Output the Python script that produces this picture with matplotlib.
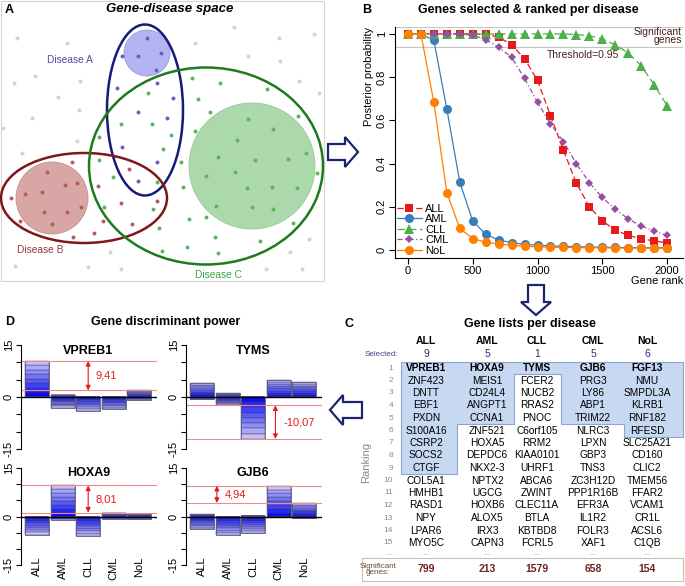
import matplotlib
matplotlib.use('Agg')
import matplotlib.pyplot as plt
import numpy as np
from matplotlib.patches import Ellipse, Circle, Rectangle, Polygon

plt.rcParams['font.family'] = ['Liberation Sans', 'DejaVu Sans']

W, H = 685, 586

# ---------------- data ----------------
# panel A: genes as dots (pixel coords inside panel A)
dots_A = [(147, 38), (138, 56), (161, 53), (156, 70), (157, 83), (117, 88), (173, 98),
          (138, 112), (167, 118), (122, 147), (157, 162), (138, 181), (122, 56)]
dots_B = [(47, 172), (65, 185), (77, 183), (25, 194), (42, 192), (44, 212), (67, 212),
          (81, 207), (52, 224), (20, 221), (11, 198), (72, 162), (129, 169), (98, 186),
          (121, 203), (157, 201), (103, 221), (132, 224), (94, 233), (73, 237)]
dots_C = [(192, 78), (220, 83), (148, 93), (198, 99), (267, 89), (210, 112), (298, 116),
          (121, 124), (152, 124), (171, 135), (195, 131), (99, 137), (163, 149), (181, 162),
          (99, 160), (113, 177), (157, 182), (183, 187), (104, 207), (153, 209), (189, 219),
          (206, 217), (159, 228), (293, 223), (215, 237), (260, 241), (162, 251), (187, 247),
          (218, 253), (306, 153), (317, 173), (248, 119), (273, 129), (237, 140), (218, 157),
          (255, 160), (288, 159), (206, 176), (235, 172), (247, 188), (272, 187), (297, 188),
          (216, 206), (252, 207), (273, 209)]
dots_other = [(17, 38), (67, 43), (14, 83), (35, 76), (80, 81), (58, 97), (32, 118), (79, 110),
              (3, 128), (77, 141), (22, 153), (234, 27), (314, 34), (279, 38), (195, 43),
              (248, 56), (280, 61), (299, 81), (319, 93), (309, 239), (266, 269), (302, 269),
              (290, 252), (15, 266), (88, 267), (110, 252), (121, 269)]

# panel B: posterior probability vs gene rank
gene_rank = [0, 100, 200, 300, 400, 500, 600, 700, 800, 900, 1000,
             1100, 1200, 1300, 1400, 1500, 1600, 1700, 1800, 1900, 2000]
prob_ALL = [1, 1, 1, 1, 1, 1, 0.998, 0.985, 0.95, 0.885, 0.785,
            0.622, 0.462, 0.31, 0.2, 0.135, 0.092, 0.068, 0.052, 0.042, 0.033]
prob_AML = [1, 1, 0.97, 0.652, 0.314, 0.134, 0.073, 0.046, 0.034, 0.026, 0.022,
            0.019, 0.017, 0.015, 0.014, 0.013, 0.012, 0.011, 0.011, 0.010, 0.010]
prob_CLL = [1, 1, 1, 1, 1, 1, 1, 1, 1, 1, 1,
            1, 1, 0.997, 0.992, 0.977, 0.949, 0.912, 0.853, 0.765, 0.668]
prob_CML = [1, 1, 1, 1, 1, 0.994, 0.974, 0.938, 0.892, 0.794, 0.683,
            0.584, 0.502, 0.399, 0.312, 0.243, 0.189, 0.144, 0.111, 0.088, 0.068]
prob_NoL = [1, 1, 0.683, 0.266, 0.10, 0.053, 0.036, 0.028, 0.022, 0.017, 0.015,
            0.013, 0.012, 0.011, 0.010, 0.010, 0.009, 0.009, 0.009, 0.008, 0.008]
threshold_line = 0.938

# panel C: gene lists
diseases = ['ALL', 'AML', 'CLL', 'CML', 'NoL']
genes_ALL = ['VPREB1', 'ZNF423', 'DNTT', 'EBF1', 'PXDN', 'S100A16', 'CSRP2', 'SOCS2', 'CTGF',
             'COL5A1', 'HMHB1', 'RASD1', 'NPY', 'LPAR6', 'MYO5C']
genes_AML = ['HOXA9', 'MEIS1', 'CD24L4', 'ANGPT1', 'CCNA1', 'ZNF521', 'HOXA5', 'DEPDC6',
             'NKX2-3', 'NPTX2', 'UGCG', 'HOXB6', 'ALOX5', 'IRX3', 'CAPN3']
genes_CLL = ['TYMS', 'FCER2', 'NUCB2', 'RRAS2', 'PNOC', 'C6orf105', 'RRM2', 'KIAA0101',
             'UHRF1', 'ABCA6', 'ZWINT', 'CLEC11A', 'BTLA', 'KBTBD8', 'FCRL5']
genes_CML = ['GJB6', 'PRG3', 'LY86', 'ABP1', 'TRIM22', 'NLRC3', 'LPXN', 'GBP3', 'TNS3',
             'ZC3H12D', 'PPP1R16B', 'EFR3A', 'IL1R2', 'FOLR3', 'XAF1']
genes_NoL = ['FGF13', 'NMU', 'SMPDL3A', 'KLRB1', 'RNF182', 'RFESD', 'SLC25A21', 'CD160',
             'CLIC2', 'TMEM56', 'FFAR2', 'VCAM1', 'CR1L', 'ACSL6', 'C1QB']
n_selected = [9, 5, 1, 5, 6]
n_significant = [799, 213, 1579, 658, 154]

# panel D: discriminant power (positive / negative extent of each bar)
d_genes = ['VPREB1', 'TYMS', 'HOXA9', 'GJB6']
d_top = [[10.4, 0.7, 0, 0, 1.9],
         [4.1, 1.1, 0, 5.0, 4.4],
         [0, 9.6, 0, 1.2, 0.7],
         [0.7, 0, 0.3, 9.5, 4.2]]
d_bottom = [[0, -3.1, -3.9, -3.5, -0.9],
            [-0.7, -2.4, -12.1, 0, 0],
            [-5.6, -1.0, -6.1, -0.8, -0.9],
            [-4.0, -5.8, -5.1, 0, -0.5]]
d_labels = ['9,41', '-10,07', '8,01', '4,94']

colors = {'ALL': '#e41a1c', 'AML': '#377eb8', 'CLL': '#4daf4a', 'CML': '#984ea3', 'NoL': '#ff7f00'}


fig = plt.figure(figsize=(W / 100, H / 100), dpi=100)
canvas = fig.add_axes([0, 0, 1, 1])
canvas.set_xlim(0, W)
canvas.set_ylim(H, 0)
canvas.axis('off')


def px_axes(x0, y0, x1, y1):
    return fig.add_axes([x0 / W, 1 - y1 / H, (x1 - x0) / W, (y1 - y0) / H])


def block_arrow(tail, tip, sw=8, hw=15, hl=13):
    tail = np.array(tail, float)
    tip = np.array(tip, float)
    d = tip - tail
    L = np.hypot(*d)
    d = d / L
    n = np.array([-d[1], d[0]])
    base = tail + d * (L - hl)
    pts = [tail + n * sw, base + n * sw, base + n * hw, tip,
           base - n * hw, base - n * sw, tail - n * sw]
    canvas.add_patch(Polygon(pts, closed=True, facecolor='white', edgecolor='#1c2470', lw=1.6, zorder=5))


# ---------------- panel A ----------------
canvas.add_patch(Rectangle((1, 1), 323, 280, fill=False, edgecolor='#d4d4d4', lw=0.8))
canvas.text(5, 10, 'A', fontsize=9, fontweight='bold', va='center')
canvas.text(170, 9, 'Gene-disease space', fontsize=9.5, fontweight='bold', style='italic',
            ha='center', va='center')

canvas.add_patch(Circle((147, 53), 23, facecolor='#b4b4f2', edgecolor='#9a9ad8', lw=0.6))
canvas.add_patch(Circle((52, 198), 36, facecolor='#d9a6a6', edgecolor='#c49090', lw=0.6))
canvas.add_patch(Circle((252, 166), 63, facecolor='#acd9ac', edgecolor='#98c898', lw=0.6))

for pts, c in [(dots_other, '#d2d2d2'), (dots_A, '#6a5cc0'), (dots_B, '#b65a5a'), (dots_C, '#5fb35f')]:
    xs, ys = zip(*pts)
    canvas.scatter(xs, ys, s=8, color=c, linewidths=0, zorder=3)

canvas.add_patch(Ellipse((145, 110), 76, 171, fill=False, edgecolor='#161a78', lw=1.8, zorder=4))
canvas.add_patch(Ellipse((84, 198), 166, 90, fill=False, edgecolor='#7f1717', lw=1.8, zorder=4))
canvas.add_patch(Ellipse((206, 166), 234, 197, fill=False, edgecolor='#1d7a1d', lw=1.8, zorder=4))
canvas.text(70, 60, 'Disease A', color='#4a4aa6', fontsize=7.3, ha='center', va='center')
canvas.text(40, 250, 'Disease B', color='#963838', fontsize=7.3, ha='center', va='center')
canvas.text(218, 275, 'Disease C', color='#3ea33e', fontsize=7.3, ha='center', va='center')

# arrows between panels
block_arrow((328, 152), (358, 152))
block_arrow((536, 285), (536, 315))
block_arrow((362, 410), (330, 410))

# ---------------- panel B ----------------
canvas.text(362, 10, 'B', fontsize=9, fontweight='bold', va='center')
canvas.text(528, 10, 'Genes selected & ranked per disease', fontsize=9, fontweight='bold',
            ha='center', va='center')

axb = px_axes(395, 27, 683, 258)
series = [('ALL', prob_ALL, 's', 5.5, (0, (5, 2.5))),
          ('AML', prob_AML, 'o', 6.5, '-'),
          ('CLL', prob_CLL, '^', 6.5, (0, (6, 3))),
          ('CML', prob_CML, 'D', 4.0, (0, (4, 2, 1, 2))),
          ('NoL', prob_NoL, 'o', 6.5, '-')]
for name, vals, mk, ms, ls in series:
    axb.plot(gene_rank, vals, color=colors[name], marker=mk, markersize=ms, linestyle=ls,
             lw=0.9, markeredgewidth=0, label=name, clip_on=False)
axb.set_xlim(-100, 2123)
axb.set_ylim(-0.037, 1.032)
axb.add_patch(Rectangle((-100, threshold_line), 2223, 1.032 - threshold_line, fill=False,
                        edgecolor='#c4c4c4', lw=0.8, zorder=0))
axb.text(1630, threshold_line - 0.012, 'Threshold=0.95', ha='right', va='top', fontsize=7.5,
         color='#4a2020')
axb.text(2115, 0.99, 'Significant\ngenes', ha='right', va='center', fontsize=7.5,
         color='#4a2020', linespacing=0.85)
for s in ['top', 'right']:
    axb.spines[s].set_visible(False)
axb.set_xticks([0, 500, 1000, 1500, 2000])
axb.set_yticks([0, 0.2, 0.4, 0.6, 0.8, 1])
axb.set_yticklabels(['0', '0.2', '0.4', '0.6', '0.8', '1'], rotation=90, va='center')
axb.tick_params(direction='out', length=4, labelsize=8, pad=2)
axb.set_ylabel('Posterior probability', loc='top', fontsize=8, labelpad=2)
axb.set_xlabel('Gene rank', loc='right', fontsize=8, labelpad=0)
axb.patch.set_alpha(0)
axb.legend(loc='lower left', frameon=False, fontsize=8, handlelength=2.2, labelspacing=0.05,
           borderaxespad=0.1, handletextpad=0.3, borderpad=0.1)

# ---------------- panel C ----------------
canvas.text(345, 324, 'C', fontsize=9, fontweight='bold', va='center')
canvas.text(530, 324, 'Gene lists per disease', fontsize=9, fontweight='bold',
            ha='center', va='center')

col_x = [426, 487, 537, 593, 647]
col_edges = [401, 457, 514, 561, 624, 683]
row_y0, row_h = 368, 12.5
top = row_y0 - row_h / 2

for j in range(5):
    canvas.add_patch(Rectangle((col_edges[j], top), col_edges[j + 1] - col_edges[j],
                               n_selected[j] * row_h, facecolor='#c6d8f2', edgecolor='none', zorder=1))
outline = [(col_edges[0], top), (col_edges[5], top)]
for j in range(4, -1, -1):
    yb = top + n_selected[j] * row_h
    outline += [(col_edges[j + 1], yb), (col_edges[j], yb)]
canvas.add_patch(Polygon(outline, closed=True, fill=False, edgecolor='#8ca6cf', lw=0.8, zorder=2))

gene_lists = [genes_ALL, genes_AML, genes_CLL, genes_CML, genes_NoL]
for j, name in enumerate(diseases):
    canvas.text(col_x[j], 341, name, fontsize=7.5, fontweight='bold', ha='center', va='center')
    canvas.text(col_x[j], 354, str(n_selected[j]), fontsize=7.5, color='#2c2c84',
                ha='center', va='center')
    for i, g in enumerate(gene_lists[j]):
        canvas.text(col_x[j], row_y0 + i * row_h, g, fontsize=7.3, ha='center', va='center',
                    fontweight='bold' if i == 0 else 'normal', zorder=3)
    canvas.text(col_x[j], row_y0 + 15 * row_h - 2, '...', fontsize=6, color='#a0a0a0',
                ha='center', va='center')
    canvas.text(col_x[j], 569, str(n_significant[j]), fontsize=7.5, fontweight='bold',
                color='#6b2222', ha='center', va='center')
canvas.text(398, 354, 'Selected:', fontsize=5.8, color='#40408e', ha='right', va='center')
for i in range(15):
    canvas.text(393, row_y0 + i * row_h, str(i + 1), fontsize=6, color='#8a8a8a',
                ha='right', va='center')
canvas.text(393, row_y0 + 15 * row_h - 2, '...', fontsize=6, color='#a0a0a0', ha='right', va='center')
canvas.text(366, 462, 'Ranking', fontsize=8, color='#8a8a8a', rotation=90, ha='center', va='center')
canvas.add_patch(Rectangle((362, 558), 321, 23, fill=False, edgecolor='#cbbfb4', lw=0.8))
canvas.text(378, 569.5, 'Significant\ngenes:', fontsize=5.8, color='#6a4a3a', ha='center',
            va='center', linespacing=0.95)

# ---------------- panel D ----------------
canvas.text(5, 322, 'D', fontsize=9, fontweight='bold', va='center')
canvas.text(166, 322, 'Gene discriminant power', fontsize=9, fontweight='bold',
            ha='center', va='center')

d_boxes = [(20.7, 345, 156.7, 449), (185.7, 345, 321.7, 449),
           (20.7, 468, 156.7, 565), (185.7, 468, 321.7, 565)]
arrow_x = [2.0, 2.87, 2.0, 0.58]
n_stripes = 8
dark = np.array([0.05, 0.05, 0.95])
light = np.array([0.76, 0.76, 0.97])
xpos = np.arange(5)

for k, gene in enumerate(d_genes):
    ax = px_axes(*d_boxes[k])
    ax.patch.set_alpha(0)
    tops = np.array(d_top[k])
    bots = np.array(d_bottom[k])
    for s in range(n_stripes):
        f0, f1 = s / n_stripes, (s + 1) / n_stripes
        c = dark + (light - dark) * s / (n_stripes - 1)
        ax.bar(xpos, tops * (f1 - f0), bottom=tops * f0, width=0.94, color=c,
               edgecolor='#3a3a78', linewidth=0.3)
        ax.bar(xpos, bots * (f1 - f0), bottom=bots * f0, width=0.94, color=c,
               edgecolor='#3a3a78', linewidth=0.3)
    ax.bar(xpos, tops - bots, bottom=bots, width=0.94, fill=False, edgecolor='#5a5a7a', linewidth=0.6)
    ax.set_xlim(-0.64, 4.68)
    ax.set_ylim(-15, 15)
    ax.axhline(0, color='black', lw=1.0)

    # the two extreme values define the discriminant gap
    if tops.max() >= -bots.min():
        srt = np.sort(tops)[::-1]
    else:
        srt = np.sort(bots)
    l1, l2 = srt[0], srt[1]
    for lv in (l1, l2):
        ax.axhline(lv, color='#f08a8a', lw=0.8)
    ax.annotate('', xy=(arrow_x[k], l1), xytext=(arrow_x[k], l2),
                arrowprops=dict(arrowstyle='<|-|>', color='#e41a1c', lw=0.8,
                                mutation_scale=7, shrinkA=0, shrinkB=0))
    ax.text(arrow_x[k] + 0.3, (l1 + l2) / 2, d_labels[k], color='#e41a1c', fontsize=8,
            ha='left', va='center')
    ax.text(2.0, 13.3, gene, fontsize=9, fontweight='bold', ha='center', va='center')

    for s in ['top', 'right', 'bottom']:
        ax.spines[s].set_visible(False)
    ax.spines['left'].set_bounds(-15, 15)
    ax.set_xticks([])
    ax.set_yticks([-15, -10, -5, 0, 5, 10, 15])
    ax.set_yticklabels(['-15', '', '', '0', '', '', '15'], rotation=90, va='center')
    ax.tick_params(direction='out', length=3.5, labelsize=8, pad=1.5)
    if k >= 2:
        for i, name in enumerate(diseases):
            ax.text(i, 0.085, name, rotation=90, ha='center', va='top', fontsize=8,
                    transform=ax.get_xaxis_transform())

fig.savefig('out.png', dpi=100)
